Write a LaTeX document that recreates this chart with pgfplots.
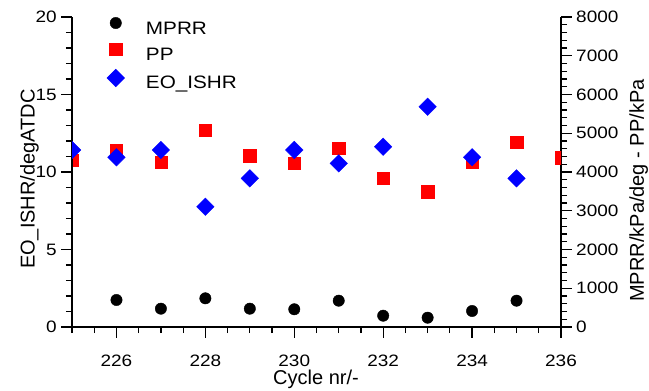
\documentclass[border=0pt]{standalone}
\usepackage{fontspec}
\setmainfont{Liberation Sans}
\newfontfamily\widefont[FakeStretch=1.15]{Liberation Sans}
\usepackage{pgfplots}
\pgfplotsset{compat=1.18}
\begin{document}
\begin{tikzpicture}
\pgfplotsset{
  common/.style={
    scale only axis, width=489bp, height=310bp,
    xmin=225, xmax=236,
    clip=true, clip marker paths=true,
    tick align=outside,
    major tick length=10.5bp, minor tick length=6bp,
    axis line style={line width=1.2bp, black},
    every tick/.style={line width=1.2bp, black},
    minor tick style={line width=1.2bp, black},
    /pgf/number format/assume math mode=true,
    /pgf/number format/1000 sep={},
    tick label style={font=\widefont\fontsize{16.5bp}{19bp}\selectfont, inner sep=0pt},
    label style={font=\fontsize{20bp}{24bp}\selectfont},
  }
}
% Right axis: MPRR and PP
\begin{axis}[common,
  axis x line=none, axis y line*=right,
  ymin=0, ymax=8000,
  ytick={0,1000,...,8000}, minor ytick={0,200,...,8000},
  yticklabel style={anchor=west, xshift=4.5bp},
  scaled y ticks=false,
  ylabel={MPRR/kPa/deg - PP/kPa},
  ylabel style={at={(axis description cs:1.1695,0.44)}, anchor=base, rotate=0},
]
\addplot[only marks, mark=*, mark size=5.7bp, black] coordinates {
(226,697) (227,473) (228,740) (229,473) (230,457) (231,679) (232,292) (233,240) (234,413) (235,679)};
\addplot[only marks, mark=square*, mark size=6.2bp, red] coordinates {
(225,4310) (226,4568) (227,4258) (228,5084) (229,4420) (230,4224) (231,4612) (232,3837) (233,3492) (234,4250) (235,4766) (236,4374)};
\end{axis}
% Left axis: EO_ISHR
\begin{axis}[common,
  axis x line*=bottom, axis y line*=left,
  ymin=0, ymax=20,
  ytick={0,5,...,20}, minor ytick={0,1,...,20},
  xtick={226,228,...,236}, minor xtick={225,225.5,...,236},
  xticklabel style={anchor=base, yshift=-28.5bp},
  yticklabel style={anchor=east, xshift=-4.5bp},
  xlabel={Cycle nr/-},
  xlabel style={at={(axis description cs:0.499,-0.187)}, anchor=base},
  ylabel={EO\_ISHR/degATDC},
  ylabel style={at={(axis description cs:-0.0765,0.477)}, anchor=base},
  legend style={at={(axis description cs:0.0716,0.999)}, anchor=north west,
    draw=none, fill=none, inner sep=0pt, outer sep=0pt, row sep=5bp,
    font=\widefont\fontsize{18bp}{21bp}\selectfont,
    nodes={inner sep=0pt, text height=13bp, text depth=4bp}},
  legend cell align=left,
  legend image code/.code={\draw[#1] plot coordinates {(0bp,6.5bp)}; \path (-8bp,0bp) (30bp,0bp);},
]
\addlegendimage{only marks, mark=*, mark size=5.7bp, black}
\addlegendentry{MPRR}
\addlegendimage{only marks, mark=square*, mark size=6.2bp, red}
\addlegendentry{PP}
\addplot[only marks, mark=square*, mark size=6.2bp, blue, mark options={rotate=45}] coordinates {
(225,11.42) (226,10.95) (227,11.42) (228,7.76) (229,9.59) (230,11.42) (231,10.56) (232,11.63) (233,14.21) (234,10.95) (235,9.59)};
\addlegendentry{EO\_ISHR}
\end{axis}
\pgfresetboundingbox
\path[use as bounding box] (-72bp,-64bp) rectangle (577bp,327bp);
\end{tikzpicture}
\end{document}
